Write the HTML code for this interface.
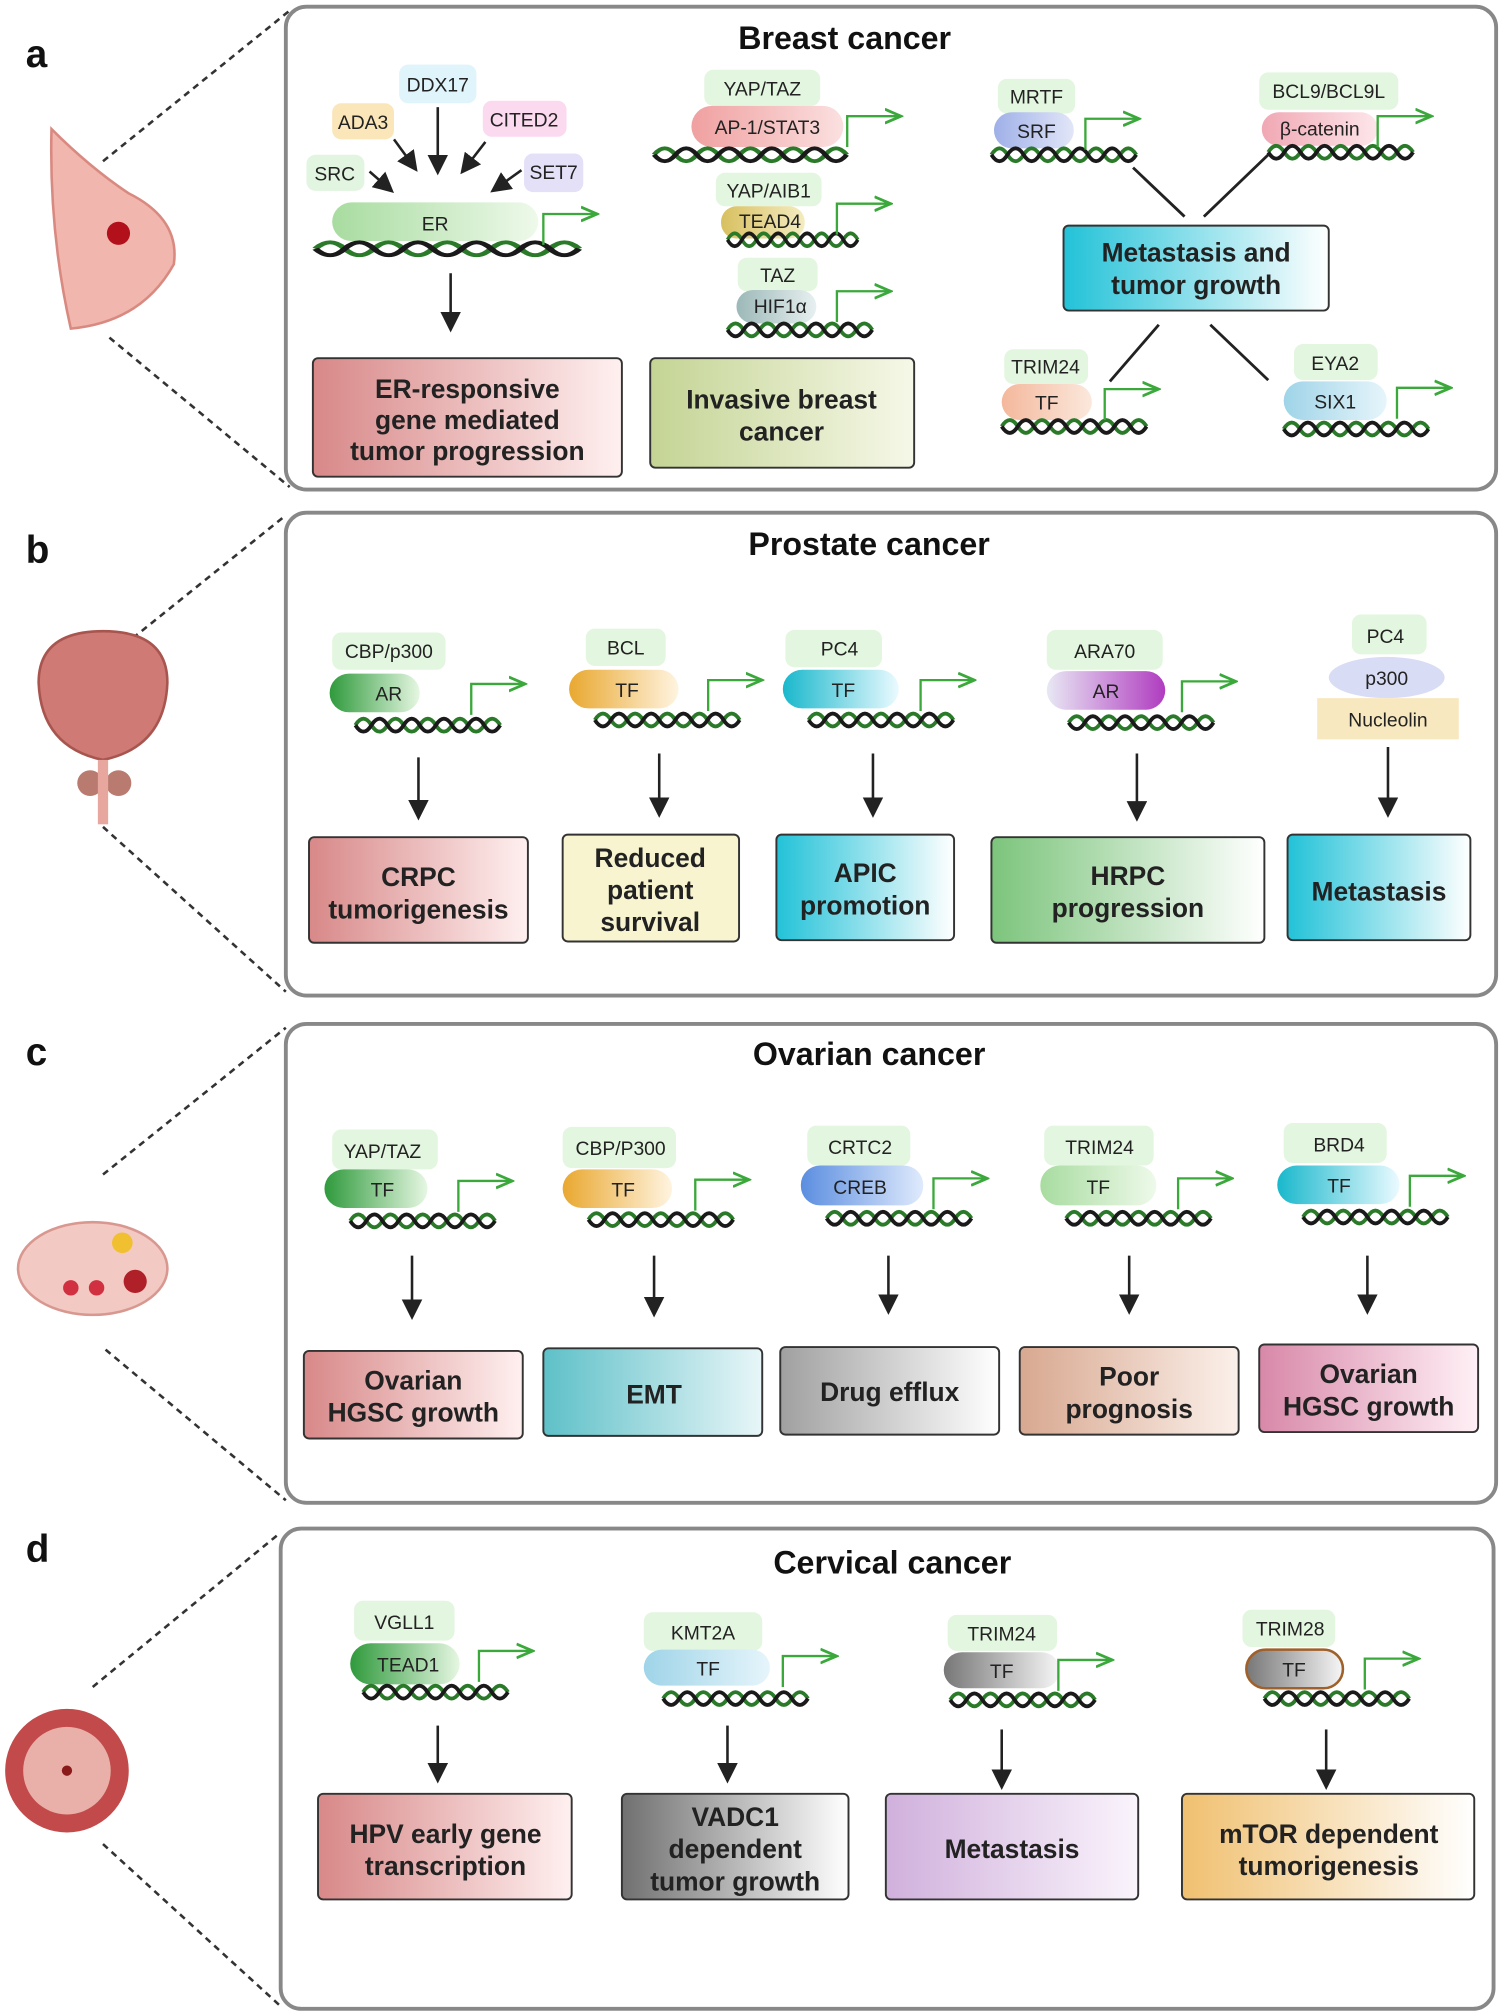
<!DOCTYPE html>
<html><head><meta charset="utf-8">
<style>html,body{margin:0;padding:0;background:#fff}svg{display:block}
text{font-family:"Liberation Sans",Arial,sans-serif}
.t{font-size:25px;font-weight:bold;text-anchor:middle;fill:#111}
.L{font-size:30px;font-weight:bold;fill:#111}
.s{font-size:15px;text-anchor:middle;fill:#222}
.b{font-size:20.5px;font-weight:bold;text-anchor:middle;fill:#222}
.cf{fill:#e3f6df}
.ar{stroke:#222;stroke-width:2;fill:none;marker-end:url(#ah)}
.dl{stroke:#333;stroke-width:2;stroke-dasharray:5,4;fill:none}
.bx{stroke:#333;stroke-width:1.5}
.pn{fill:#fff;stroke:#888;stroke-width:3}
</style></head><body>
<svg width="1500" height="2013" viewBox="0 0 1165 1563" xmlns="http://www.w3.org/2000/svg">
<defs>
<marker id="ah" markerWidth="8" markerHeight="8" refX="6" refY="4" orient="auto" markerUnits="strokeWidth"><path d="M0,0 L8,4 L0,8 z" fill="#222"/></marker>
<marker id="gh" markerWidth="8" markerHeight="8" refX="6" refY="4" orient="auto" markerUnits="strokeWidth"><path d="M0,1 L7,4 L0,7" fill="none" stroke="#3aa83a" stroke-width="1.2"/></marker>
<g id="dna">
<path d="M0 0 q6.25 -10 12.5 0 t12.5 0 t12.5 0 t12.5 0 t12.5 0 t12.5 0 t12.5 0 t12.5 0 t12.5 0" stroke="#2a7a2a" stroke-width="3" fill="none"/>
<path d="M0 0 q6.25 10 12.5 0 t12.5 0 t12.5 0 t12.5 0 t12.5 0 t12.5 0 t12.5 0 t12.5 0 t12.5 0" stroke="#1a1a1a" stroke-width="3" fill="none"/>
</g>
<g id="prom"><path d="M0 0 V-24 H40" stroke="#3aa83a" stroke-width="1.8" fill="none" marker-end="url(#gh)"/></g>
<linearGradient id="gG"><stop offset="0" stop-color="#2f9a3c"/><stop offset="1" stop-color="#e6f7e2"/></linearGradient>
<linearGradient id="gLG"><stop offset="0" stop-color="#a8dca0"/><stop offset="1" stop-color="#eef9ea"/></linearGradient>
<linearGradient id="gO"><stop offset="0" stop-color="#e9a830"/><stop offset="1" stop-color="#fff4e0"/></linearGradient>
<linearGradient id="gC"><stop offset="0" stop-color="#19b8cc"/><stop offset="1" stop-color="#eafaff"/></linearGradient>
<linearGradient id="gP"><stop offset="0" stop-color="#e8e8f4"/><stop offset="1" stop-color="#b03cc0"/></linearGradient>
<linearGradient id="gB"><stop offset="0" stop-color="#5b8ee0"/><stop offset="1" stop-color="#dfeafc"/></linearGradient>
<linearGradient id="gLB"><stop offset="0" stop-color="#9fd4e8"/><stop offset="1" stop-color="#e6f5fb"/></linearGradient>
<linearGradient id="gGr"><stop offset="0" stop-color="#777"/><stop offset="1" stop-color="#f6f6f6"/></linearGradient>
<linearGradient id="gR"><stop offset="0" stop-color="#f0a0a0"/><stop offset="1" stop-color="#fbe0e0"/></linearGradient>
<linearGradient id="gPe"><stop offset="0" stop-color="#f4b89c"/><stop offset="1" stop-color="#fbe8dc"/></linearGradient>
<linearGradient id="gSrf"><stop offset="0" stop-color="#9fb0e8"/><stop offset="1" stop-color="#e2e6f8"/></linearGradient>
<linearGradient id="gBc"><stop offset="0" stop-color="#f0a8b4"/><stop offset="1" stop-color="#fde6ea"/></linearGradient>
<linearGradient id="gHif"><stop offset="0" stop-color="#9cb8b8"/><stop offset="1" stop-color="#e8f0f0"/></linearGradient>
<linearGradient id="gTe"><stop offset="0" stop-color="#d8c060"/><stop offset="1" stop-color="#f4ecc0"/></linearGradient>
<linearGradient id="bR"><stop offset="0" stop-color="#d88888"/><stop offset="1" stop-color="#fff0f0"/></linearGradient>
<linearGradient id="bY"><stop offset="0" stop-color="#c4d494"/><stop offset="1" stop-color="#f6f8e8"/></linearGradient>
<linearGradient id="bC"><stop offset="0" stop-color="#22c2d8"/><stop offset="1" stop-color="#ffffff"/></linearGradient>
<linearGradient id="bG"><stop offset="0" stop-color="#7cc47c"/><stop offset="1" stop-color="#ffffff"/></linearGradient>
<linearGradient id="bT"><stop offset="0" stop-color="#5ec0c8"/><stop offset="1" stop-color="#e8f6f8"/></linearGradient>
<linearGradient id="bGr"><stop offset="0" stop-color="#a0a0a0"/><stop offset="1" stop-color="#ffffff"/></linearGradient>
<linearGradient id="bPe"><stop offset="0" stop-color="#d8a890"/><stop offset="1" stop-color="#fbf0ea"/></linearGradient>
<linearGradient id="bPk"><stop offset="0" stop-color="#d888a8"/><stop offset="1" stop-color="#fff0f6"/></linearGradient>
<linearGradient id="bDG"><stop offset="0" stop-color="#707070"/><stop offset="1" stop-color="#ffffff"/></linearGradient>
<linearGradient id="bL"><stop offset="0" stop-color="#d0b0dc"/><stop offset="1" stop-color="#faf4fc"/></linearGradient>
<linearGradient id="bOr"><stop offset="0" stop-color="#f0c070"/><stop offset="1" stop-color="#ffffff"/></linearGradient>
</defs>

<rect class="pn" x="222" y="5" width="940" height="375" rx="16"/>
<rect class="pn" x="222" y="398" width="940" height="375" rx="16"/>
<rect class="pn" x="222" y="795" width="940" height="372" rx="16"/>
<rect class="pn" x="218" y="1187" width="942" height="373" rx="16"/>
<text class="t" x="656" y="38">Breast cancer</text>
<text class="t" x="675" y="431">Prostate cancer</text>
<text class="t" x="675" y="827">Ovarian cancer</text>
<text class="t" x="693" y="1222">Cervical cancer</text>
<text class="L" x="20" y="52">a</text>
<text class="L" x="20" y="437">b</text>
<text class="L" x="20" y="827">c</text>
<text class="L" x="20" y="1213">d</text>

<path class="dl" d="M80 125 L225 8 M85 262 L225 378"/>
<path class="dl" d="M75 518 L222 400 M80 642 L222 770"/>
<path class="dl" d="M80 912 L222 798 M82 1048 L222 1165"/>
<path class="dl" d="M72 1310 L218 1190 M80 1432 L218 1558"/>
<path d="M40 100 Q38 180 55 255 Q110 250 135 205 Q140 170 100 150 Q70 130 40 100z" fill="#f1b6ae" stroke="#d98a80" stroke-width="2"/>
<circle cx="92" cy="181" r="9" fill="#b2101a"/>
<path d="M30 530 Q30 490 80 490 Q130 490 130 530 Q128 580 80 590 Q32 580 30 530z" fill="#cf7a74" stroke="#a85550" stroke-width="2"/>
<circle cx="70" cy="608" r="10" fill="#b97a70"/><circle cx="92" cy="608" r="10" fill="#b97a70"/>
<rect x="76" y="590" width="8" height="50" fill="#e8a79e"/>
<ellipse cx="72" cy="985" rx="58" ry="36" fill="#f3c9c3" stroke="#d89890" stroke-width="2"/>
<circle cx="95" cy="965" r="8" fill="#f0c030"/><circle cx="55" cy="1000" r="6" fill="#d03040"/><circle cx="75" cy="1000" r="6" fill="#d03040"/><circle cx="105" cy="995" r="9" fill="#b02028"/>
<circle cx="52" cy="1375" r="48" fill="#c24a4a"/><circle cx="52" cy="1375" r="34" fill="#e8b0a8"/><circle cx="52" cy="1375" r="4" fill="#8a1a1a"/>

<!-- Panel a: ER -->
<rect x="258" y="80" width="48" height="28" rx="7" fill="#fae6b8"/><text class="s" x="282" y="100">ADA3</text>
<rect x="310" y="50" width="60" height="30" rx="7" fill="#dff4fb"/><text class="s" x="340" y="71">DDX17</text>
<rect x="375" y="78" width="65" height="28" rx="7" fill="#fbd9ef"/><text class="s" x="407" y="98">CITED2</text>
<rect x="238" y="120" width="45" height="28" rx="7" fill="#e2f5e0"/><text class="s" x="260" y="140">SRC</text>
<rect x="407" y="119" width="46" height="30" rx="7" fill="#e3e0f8"/><text class="s" x="430" y="139">SET7</text>
<path class="ar" d="M287 133 L303 147"/>
<path class="ar" d="M306 108 L322 130"/>
<path class="ar" d="M340 83 L340 132"/>
<path class="ar" d="M377 110 L360 132"/>
<path class="ar" d="M405 132 L384 147"/>
<rect x="258" y="157" width="160" height="30" rx="15" fill="url(#gLG)"/><text class="s" x="338" y="179">ER</text>
<use href="#dna" transform="translate(245 193) scale(1.82 1)"/>
<use href="#prom" x="422" y="190"/>
<path class="ar" d="M350 212 L350 254"/>
<rect class="bx" x="243" y="278" width="240" height="92" rx="4" fill="url(#bR)"/>
<text class="b" x="363" y="309">ER-responsive</text><text class="b" x="363" y="333">gene mediated</text><text class="b" x="363" y="357">tumor progression</text>

<rect class="cf" x="547" y="54" width="90" height="28" rx="7"/><text class="s" x="592" y="74">YAP/TAZ</text>
<rect x="537" y="82" width="118" height="32" rx="16" fill="url(#gR)"/><text class="s" x="596" y="104">AP-1/STAT3</text>
<use href="#dna" transform="translate(508 120) scale(1.33 1)"/>
<use href="#prom" x="658" y="114"/>
<rect class="cf" x="556" y="134" width="82" height="26" rx="7"/><text class="s" x="597" y="153">YAP/AIB1</text>
<rect x="560" y="160" width="65" height="25" rx="12" fill="url(#gTe)"/><text class="s" x="598" y="177">TEAD4</text>
<use href="#dna" transform="translate(565 186) scale(0.9 1)"/>
<use href="#prom" x="650" y="182"/>
<rect class="cf" x="573" y="200" width="62" height="26" rx="7"/><text class="s" x="604" y="219">TAZ</text>
<rect x="572" y="225" width="62" height="26" rx="13" fill="url(#gHif)"/><text class="s" x="606" y="243">HIF1α</text>
<use href="#dna" transform="translate(565 256)"/>
<use href="#prom" x="650" y="250"/>
<rect class="bx" x="505" y="278" width="205" height="85" rx="4" fill="url(#bY)"/>
<text class="b" x="607" y="317">Invasive breast</text><text class="b" x="607" y="342">cancer</text>

<rect class="cf" x="775" y="61" width="60" height="27" rx="7"/><text class="s" x="805" y="80">MRTF</text>
<rect x="772" y="87" width="62" height="28" rx="14" fill="url(#gSrf)"/><text class="s" x="805" y="107">SRF</text>
<use href="#dna" transform="translate(770 120)"/>
<use href="#prom" x="843" y="116"/>
<rect class="cf" x="978" y="56" width="108" height="29" rx="7"/><text class="s" x="1032" y="76">BCL9/BCL9L</text>
<rect x="980" y="87" width="90" height="26" rx="13" fill="url(#gBc)"/><text class="s" x="1025" y="105">β-catenin</text>
<use href="#dna" transform="translate(985 118)"/>
<use href="#prom" x="1070" y="114"/>
<path d="M880 130 L920 168 M985 120 L935 168 M900 252 L862 296 M940 252 L985 295" stroke="#222" stroke-width="2.2"/>
<rect class="bx" x="826" y="175" width="206" height="66" rx="4" fill="url(#bC)"/>
<text class="b" x="929" y="203">Metastasis and</text><text class="b" x="929" y="228">tumor growth</text>
<rect class="cf" x="780" y="271" width="65" height="27" rx="7"/><text class="s" x="812" y="290">TRIM24</text>
<rect x="778" y="298" width="70" height="28" rx="14" fill="url(#gPe)"/><text class="s" x="813" y="318">TF</text>
<use href="#dna" transform="translate(778 331)"/>
<use href="#prom" x="858" y="326"/>
<rect class="cf" x="1005" y="267" width="65" height="28" rx="7"/><text class="s" x="1037" y="287">EYA2</text>
<rect x="997" y="296" width="80" height="30" rx="15" fill="url(#gLB)"/><text class="s" x="1037" y="317">SIX1</text>
<use href="#dna" transform="translate(997 333)"/>
<use href="#prom" x="1085" y="325"/>

<!-- Panel b -->
<rect class="cf" x="258" y="491" width="88" height="29" rx="7"/><text class="s" x="302" y="511">CBP/p300</text>
<rect x="256" y="523" width="70" height="30" rx="15" fill="url(#gG)"/><text class="s" x="302" y="544">AR</text>
<use href="#dna" transform="translate(276 563)"/>
<use href="#prom" x="366" y="555"/>
<path class="ar" d="M325 588 L325 633"/>
<rect class="bx" x="240" y="650" width="170" height="82" rx="4" fill="url(#bR)"/>
<text class="b" x="325" y="688">CRPC</text><text class="b" x="325" y="713">tumorigenesis</text>

<rect class="cf" x="455" y="488" width="62" height="29" rx="7"/><text class="s" x="486" y="508">BCL</text>
<rect x="442" y="520" width="85" height="30" rx="15" fill="url(#gO)"/><text class="s" x="487" y="541">TF</text>
<use href="#dna" transform="translate(462 559)"/>
<use href="#prom" x="550" y="552"/>
<path class="ar" d="M512 585 L512 631"/>
<rect class="bx" x="437" y="648" width="137" height="83" rx="4" fill="#f8f4d0"/>
<text class="b" x="505" y="673">Reduced</text><text class="b" x="505" y="698">patient</text><text class="b" x="505" y="723">survival</text>

<rect class="cf" x="610" y="489" width="75" height="29" rx="7"/><text class="s" x="652" y="509">PC4</text>
<rect x="608" y="520" width="90" height="30" rx="15" fill="url(#gC)"/><text class="s" x="655" y="541">TF</text>
<use href="#dna" transform="translate(628 559)"/>
<use href="#prom" x="715" y="552"/>
<path class="ar" d="M678 585 L678 631"/>
<rect class="bx" x="603" y="648" width="138" height="82" rx="4" fill="url(#bC)"/>
<text class="b" x="672" y="685">APIC</text><text class="b" x="672" y="710">promotion</text>

<rect class="cf" x="813" y="489" width="90" height="31" rx="7"/><text class="s" x="858" y="511">ARA70</text>
<rect x="813" y="521" width="92" height="30" rx="15" fill="url(#gP)"/><text class="s" x="859" y="542">AR</text>
<use href="#dna" transform="translate(830 561)"/>
<use href="#prom" x="918" y="553"/>
<path class="ar" d="M883 585 L883 634"/>
<rect class="bx" x="770" y="650" width="212" height="82" rx="4" fill="url(#bG)"/>
<text class="b" x="876" y="687">HRPC</text><text class="b" x="876" y="712">progression</text>

<rect class="cf" x="1050" y="477" width="58" height="31" rx="7"/><text class="s" x="1076" y="499">PC4</text>
<ellipse cx="1077" cy="526" rx="45" ry="16" fill="#d8dcf4"/><text class="s" x="1077" y="532">p300</text>
<rect x="1023" y="542" width="110" height="32" fill="#f8e8c0"/><text class="s" x="1078" y="564">Nucleolin</text>
<path class="ar" d="M1078 580 L1078 631"/>
<rect class="bx" x="1000" y="648" width="142" height="82" rx="4" fill="url(#bC)"/>
<text class="b" x="1071" y="699">Metastasis</text>

<!-- Panel c -->
<rect class="cf" x="258" y="877" width="82" height="31" rx="7"/><text class="s" x="297" y="899">YAP/TAZ</text>
<rect x="252" y="908" width="80" height="30" rx="15" fill="url(#gG)"/><text class="s" x="297" y="929">TF</text>
<use href="#dna" transform="translate(272 948)"/>
<use href="#prom" x="356" y="941"/>
<path class="ar" d="M320 975 L320 1021"/>
<rect class="bx" x="236" y="1049" width="170" height="68" rx="4" fill="url(#bR)"/>
<text class="b" x="321" y="1079">Ovarian</text><text class="b" x="321" y="1104">HGSC growth</text>

<rect class="cf" x="437" y="875" width="88" height="32" rx="7"/><text class="s" x="482" y="897">CBP/P300</text>
<rect x="437" y="908" width="85" height="30" rx="15" fill="url(#gO)"/><text class="s" x="484" y="929">TF</text>
<use href="#dna" transform="translate(457 947)"/>
<use href="#prom" x="540" y="940"/>
<path class="ar" d="M508 975 L508 1019"/>
<rect class="bx" x="422" y="1047" width="170" height="68" rx="4" fill="url(#bT)"/>
<text class="b" x="508" y="1090">EMT</text>

<rect class="cf" x="627" y="874" width="80" height="31" rx="7"/><text class="s" x="668" y="896">CRTC2</text>
<rect x="622" y="905" width="95" height="31" rx="15" fill="url(#gB)"/><text class="s" x="668" y="927">CREB</text>
<use href="#dna" transform="translate(642 946)"/>
<use href="#prom" x="725" y="939"/>
<path class="ar" d="M690 975 L690 1017"/>
<rect class="bx" x="606" y="1046" width="170" height="68" rx="4" fill="url(#bGr)"/>
<text class="b" x="691" y="1088">Drug efflux</text>

<rect class="cf" x="811" y="874" width="85" height="31" rx="7"/><text class="s" x="854" y="896">TRIM24</text>
<rect x="808" y="905" width="90" height="31" rx="15" fill="url(#gLG)"/><text class="s" x="853" y="927">TF</text>
<use href="#dna" transform="translate(828 946)"/>
<use href="#prom" x="915" y="939"/>
<path class="ar" d="M877 975 L877 1017"/>
<rect class="bx" x="792" y="1046" width="170" height="68" rx="4" fill="url(#bPe)"/>
<text class="b" x="877" y="1076">Poor</text><text class="b" x="877" y="1101">prognosis</text>

<rect class="cf" x="997" y="872" width="80" height="31" rx="7"/><text class="s" x="1040" y="894">BRD4</text>
<rect x="992" y="905" width="95" height="30" rx="15" fill="url(#gC)"/><text class="s" x="1040" y="926">TF</text>
<use href="#dna" transform="translate(1012 945)"/>
<use href="#prom" x="1095" y="937"/>
<path class="ar" d="M1062 975 L1062 1017"/>
<rect class="bx" x="978" y="1044" width="170" height="68" rx="4" fill="url(#bPk)"/>
<text class="b" x="1063" y="1074">Ovarian</text><text class="b" x="1063" y="1099">HGSC growth</text>

<!-- Panel d -->
<rect class="cf" x="275" y="1243" width="78" height="31" rx="7"/><text class="s" x="314" y="1265">VGLL1</text>
<rect x="272" y="1276" width="85" height="32" rx="16" fill="url(#gG)"/><text class="s" x="317" y="1298">TEAD1</text>
<use href="#dna" transform="translate(282 1314)"/>
<use href="#prom" x="372" y="1306"/>
<path class="ar" d="M340 1340 L340 1381"/>
<rect class="bx" x="247" y="1393" width="197" height="82" rx="4" fill="url(#bR)"/>
<text class="b" x="346" y="1431">HPV early gene</text><text class="b" x="346" y="1456">transcription</text>

<rect class="cf" x="500" y="1252" width="92" height="30" rx="7"/><text class="s" x="546" y="1273">KMT2A</text>
<rect x="500" y="1281" width="98" height="28" rx="14" fill="url(#gLB)"/><text class="s" x="550" y="1301">TF</text>
<use href="#dna" transform="translate(515 1319)"/>
<use href="#prom" x="608" y="1310"/>
<path class="ar" d="M565 1340 L565 1381"/>
<rect class="bx" x="483" y="1393" width="176" height="82" rx="4" fill="url(#bDG)"/>
<text class="b" x="571" y="1418">VADC1</text><text class="b" x="571" y="1443">dependent</text><text class="b" x="571" y="1468">tumor growth</text>

<rect class="cf" x="736" y="1254" width="85" height="28" rx="7"/><text class="s" x="778" y="1274">TRIM24</text>
<rect x="733" y="1283" width="90" height="28" rx="14" fill="url(#gGr)"/><text class="s" x="778" y="1303">TF</text>
<use href="#dna" transform="translate(738 1320)"/>
<use href="#prom" x="822" y="1313"/>
<path class="ar" d="M778 1343 L778 1386"/>
<rect class="bx" x="688" y="1393" width="196" height="82" rx="4" fill="url(#bL)"/>
<text class="b" x="786" y="1443">Metastasis</text>

<rect class="cf" x="965" y="1250" width="72" height="29" rx="7"/><text class="s" x="1002" y="1270">TRIM28</text>
<rect x="968" y="1281" width="75" height="30" rx="15" fill="url(#gGr)" stroke="#a0602a" stroke-width="2"/><text class="s" x="1005" y="1302">TF</text>
<use href="#dna" transform="translate(982 1319)"/>
<use href="#prom" x="1060" y="1312"/>
<path class="ar" d="M1030 1343 L1030 1386"/>
<rect class="bx" x="918" y="1393" width="227" height="82" rx="4" fill="url(#bOr)"/>
<text class="b" x="1032" y="1431">mTOR dependent</text><text class="b" x="1032" y="1456">tumorigenesis</text>
</svg>
</body></html>
